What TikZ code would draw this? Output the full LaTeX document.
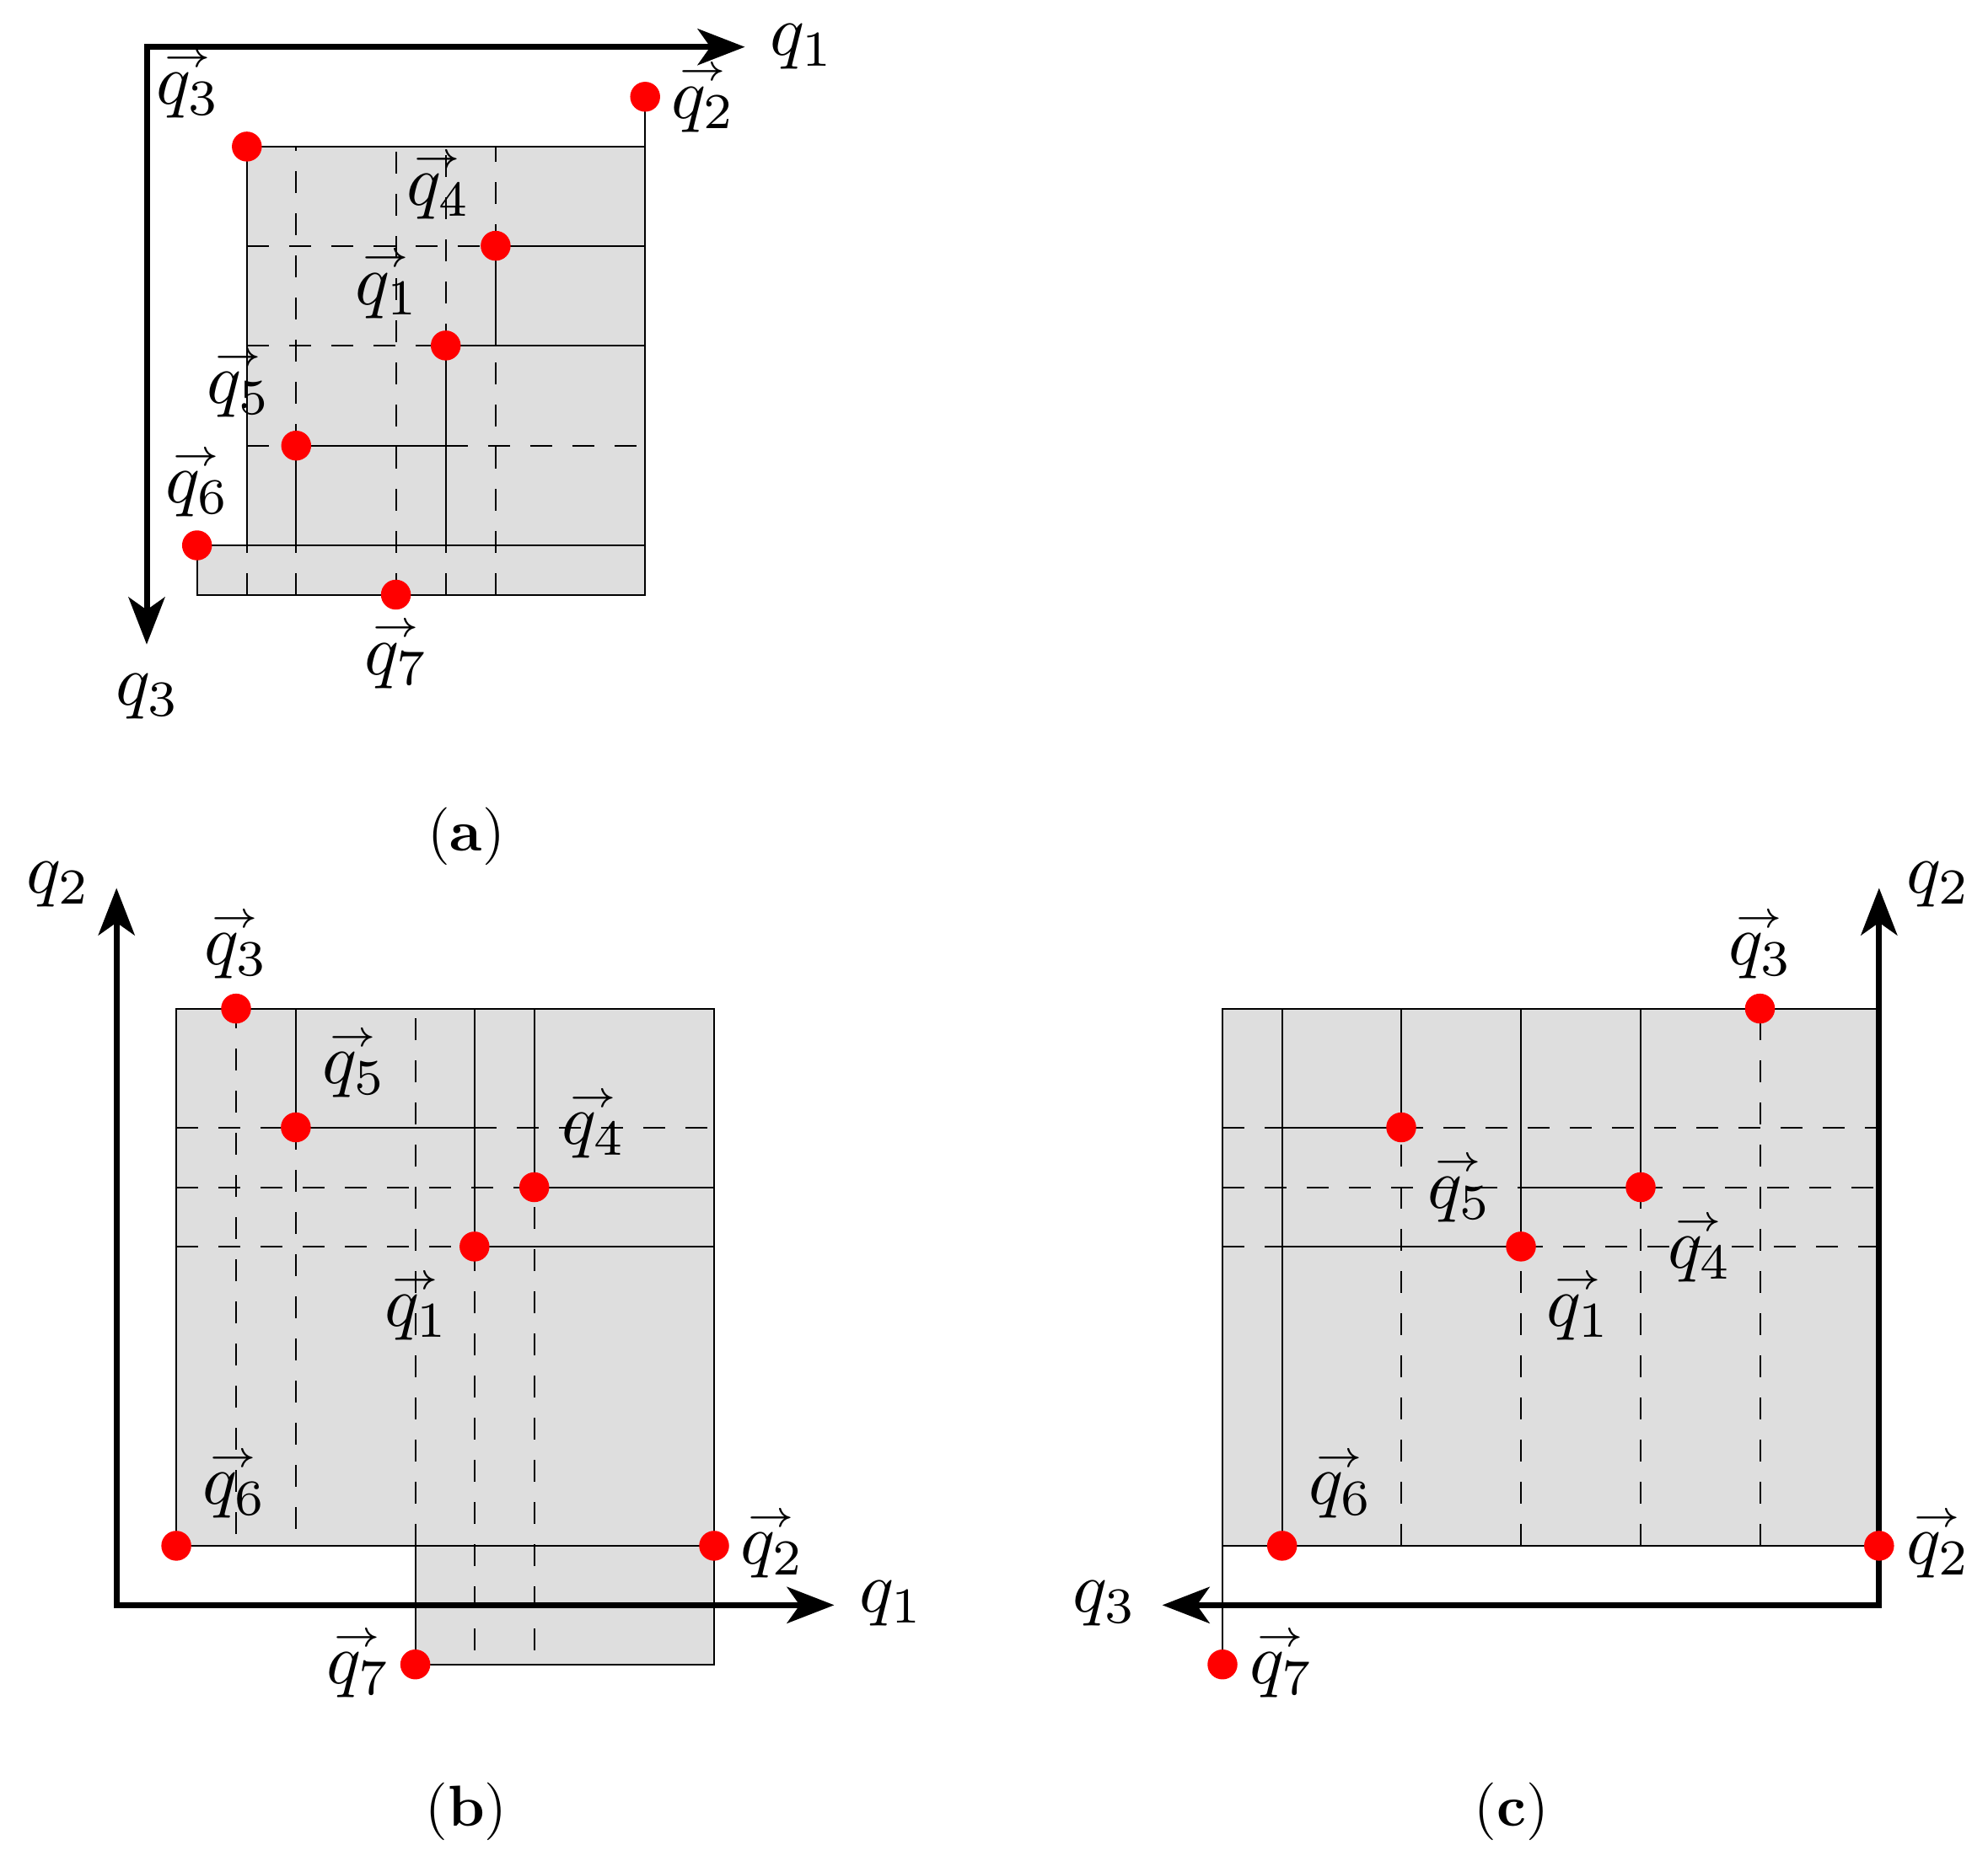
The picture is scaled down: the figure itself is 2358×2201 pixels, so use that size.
\documentclass[tikz,border=0pt]{standalone}
\usepackage{amsmath}
\usetikzlibrary{arrows.meta,calc}
\pgfdeclarelayer{bg}
\pgfsetlayers{bg,main}
\definecolor{shadegray}{HTML}{DEDEDE}
\newcommand{\qv}[1]{\rlap{\hspace{0.9pt}\raisebox{5.2pt}{$\scriptscriptstyle\rightarrow$}}$q_{#1}$}
\newcommand{\qa}[1]{$q_{#1}$}
\tikzset{
  dotpt/.style={circle,fill=red,draw=none,minimum size=0.71cm,inner sep=0pt},
  lab/.style={scale=4.85,inner sep=0pt,text=black,xshift=0.01cm},
  captxt/.style={scale=3.9,inner sep=0pt,text=black},
  region/.style={fill=shadegray,draw=none},
  solidln/.style={draw=black,line width=0.04cm},
  dashln/.style={draw=black,line width=0.04cm,dash pattern=on 0.52cm off 0.48cm},
  axisln/.style={draw=black,line width=0.14cm,line join=miter,
    {Stealth[length=1.12cm,width=0.86cm,inset=0.3cm]}-{Stealth[length=1.12cm,width=0.86cm,inset=0.3cm]}},
}
\begin{document}
\begin{tikzpicture}[x=0.02cm,y=-0.02cm]
\useasboundingbox (0,0) rectangle (2358,2201);

% ---------- panel a
\node[dotpt] (a1) at (528.7,409.9) {};
\node[dotpt] (a2) at (765.2,114.8) {};
\node[dotpt] (a3) at (292.8,173.9) {};
\node[dotpt] (a4) at (587.9,291.6) {};
\node[dotpt] (a5) at (351.3,528.7) {};
\node[dotpt] (a6) at (233.7,647) {};
\node[dotpt] (a7) at (469.6,705.5) {};
\coordinate (aO) at (174,55.7);
\coordinate (aX) at (883.5,55.7);
\coordinate (aY) at (174,764.6);
\begin{pgfonlayer}{bg}
\path[region] (a3.center) -- (a3.center-|a2.center) -- (a7.center-|a2.center) -- (a7.center-|a6.center) -- (a6.center) -- (a6.center-|a3.center) -- cycle;
\draw[solidln] (a2.center) -- (a7.center-|a2.center) -- (a7.center-|a6.center) -- (a6.center) -- (a6.center-|a2.center);
\draw[solidln] (a3.center-|a2.center) -- (a3.center) -- (a6.center-|a3.center);
\draw[solidln] (a4.center) -- (a4.center-|a2.center);
\draw[dashln] (a4.center-|a3.center) -- (a4.center);
\draw[solidln] (a1.center) -- (a1.center-|a2.center);
\draw[dashln] (a1.center-|a3.center) -- (a1.center);
\draw[solidln] (a5.center) -- (a5.center-|a1.center);
\draw[dashln] (a5.center-|a3.center) -- (a5.center);
\draw[dashln] (a5.center-|a1.center) -- (a5.center-|a2.center);
% verticals
\draw[dashln] (a7.center-|a3.center) -- (a6.center-|a3.center);
\draw[solidln] (a5.center) -- (a6.center-|a5.center);
\draw[dashln] (a7.center-|a5.center) -- (a6.center-|a5.center);
\draw[dashln] (a5.center) -- (a3.center-|a5.center);
\draw[dashln] (a7.center) -- (a3.center-|a7.center);
\draw[solidln] (a1.center) -- (a6.center-|a1.center);
\draw[dashln] (a7.center-|a1.center) -- (a6.center-|a1.center);
\draw[dashln] (a1.center) -- (a3.center-|a1.center);
\draw[solidln] (a4.center) -- (a1.center-|a4.center);
\draw[dashln] (a7.center-|a4.center) -- (a1.center-|a4.center);
\draw[dashln] (a4.center) -- (a3.center-|a4.center);
\draw[axisln] (aX) -- (aO) -- (aY);
\end{pgfonlayer}
\node[lab] (la3) at (221.6,101.6) {\qv{3}};
\node[lab] (la2) at (832.4,117.7) {\qv{2}};
\node[lab] (la4) at (517.8,221) {\qv{4}};
\node[lab] (la1) at (457,338.7) {\qv{1}};
\node[lab] (la5) at (281.3,456.4) {\qv{5}};
\node[lab] (la6) at (232,574) {\qv{6}};
\node[lab] (la7) at (468.5,777.8) {\qv{7}};
\node[lab] (axa1) at (949.5,55.7) {\qa{1}};
\node[lab] (axa3) at (172.8,826.6) {\qa{3}};
\node[captxt] (capa) at (553,992) {(\textbf{a})};

\begin{scope}[yshift=-0.03cm]
% ---------- panel b
\node[dotpt] (b1) at (562.8,1477.4) {};
\node[dotpt] (b2) at (847,1832.4) {};
\node[dotpt] (b3) at (280,1195.1) {};
\node[dotpt] (b4) at (633.7,1407) {};
\node[dotpt] (b5) at (350.9,1336) {};
\node[dotpt] (b6) at (209.1,1832.4) {};
\node[dotpt] (b7) at (492.6,1973.2) {};
\coordinate (bO) at (138.2,1902.8);
\coordinate (bX) at (989.5,1902.8);
\coordinate (bY) at (138.2,1052);
\coordinate (b3e) at (280,1818);
\coordinate (b5e) at (350.9,1812);
\coordinate (b1e) at (562.8,1956);
\coordinate (b4e) at (633.7,1956);
\begin{pgfonlayer}{bg}
\path[region] (b6.center) -- (b3.center-|b6.center) -- (b3.center-|b2.center) -- (b7.center-|b2.center) -- (b7.center) -- (b6.center-|b7.center) -- cycle;
\draw[solidln] (b6.center) -- (b3.center-|b6.center) -- (b3.center-|b2.center) -- (b7.center-|b2.center) -- (b7.center) -- (b6.center-|b7.center);
\draw[solidln] (b6.center) -- (b2.center);
\draw[dashln] (b6.center-|b7.center) -- (b3.center-|b7.center);
\draw[dashln] (b3e) -- (b3.center);
\draw[solidln] (b5.center) -- (b3.center-|b5.center);
\draw[dashln] (b5e) -- (b5.center);
\draw[solidln] (b1.center) -- (b3.center-|b1.center);
\draw[dashln] (b1e) -- (b1.center);
\draw[solidln] (b4.center) -- (b3.center-|b4.center);
\draw[dashln] (b4e) -- (b4.center);
\draw[dashln] (b5.center-|b6.center) -- (b5.center);
\draw[solidln] (b5.center) -- (b5.center-|b1.center);
\draw[dashln] (b5.center-|b1.center) -- (b5.center-|b2.center);
\draw[dashln] (b4.center-|b6.center) -- (b4.center);
\draw[solidln] (b4.center) -- (b4.center-|b2.center);
\draw[dashln] (b1.center-|b6.center) -- (b1.center);
\draw[solidln] (b1.center) -- (b1.center-|b2.center);
\draw[axisln] (bX) -- (bO) -- (bY);
\end{pgfonlayer}
\node[lab] (lb3) at (278,1121) {\qv{3}};
\node[lab] (lb5) at (418,1262) {\qv{5}};
\node[lab] (lb4) at (702.5,1334) {\qv{4}};
\node[lab] (lb1) at (492,1550) {\qv{1}};
\node[lab] (lb6) at (276,1761) {\qv{6}};
\node[lab] (lb2) at (914,1832) {\qv{2}};
\node[lab] (lb7) at (423,1974) {\qv{7}};
\node[lab] (axb1) at (1055,1901) {\qa{1}};
\node[lab] (axb2) at (67,1048) {\qa{2}};
\node[captxt] (capb) at (553,2148) {(\textbf{b})};

% ---------- panel c
\node[dotpt] (c1) at (1804,1477.4) {};
\node[dotpt] (c3) at (2087.5,1195.1) {};
\node[dotpt] (c4) at (1946,1407) {};
\node[dotpt] (c5) at (1662,1336) {};
\node[dotpt] (c6) at (1520.7,1832.4) {};
\node[dotpt] (c7) at (1450,1973.2) {};
\coordinate (cO) at (2228.8,1902.8);
\coordinate (cX) at (1378.6,1902.8);
\coordinate (cY) at (2228.8,1052);
\coordinate (c2) at (2228.8,1832.4);
\begin{pgfonlayer}{bg}
\path[region] (c3.center-|c7.center) -- (c3.center-|c2) -- (c2) -- (c6.center-|c7.center) -- cycle;
\draw[solidln] (c7.center) -- (c3.center-|c7.center) -- (c3.center-|c2);
\draw[solidln] (c6.center-|c7.center) -- (c2);
\draw[solidln] (c6.center) -- (c3.center-|c6.center);
\draw[solidln] (c5.center) -- (c3.center-|c5.center);
\draw[dashln] (c6.center-|c5.center) -- (c5.center);
\draw[solidln] (c1.center) -- (c3.center-|c1.center);
\draw[dashln] (c6.center-|c1.center) -- (c1.center);
\draw[solidln] (c4.center) -- (c3.center-|c4.center);
\draw[dashln] (c6.center-|c4.center) -- (c4.center);
\draw[dashln] (c6.center-|c3.center) -- (c3.center);
\draw[dashln] (c5.center-|c7.center) -- (c5.center-|c6.center);
\draw[solidln] (c5.center-|c6.center) -- (c5.center);
\draw[dashln] (c5.center) -- (c5.center-|c2);
\draw[dashln] (c4.center-|c7.center) -- (c4.center-|c1.center);
\draw[solidln] (c4.center-|c1.center) -- (c4.center);
\draw[dashln] (c4.center) -- (c4.center-|c2);
\draw[dashln] (c1.center-|c7.center) -- (c1.center-|c6.center);
\draw[solidln] (c1.center-|c6.center) -- (c1.center);
\draw[dashln] (c1.center) -- (c1.center-|c2);
\draw[axisln] (cX) -- (cO) -- (cY);
\end{pgfonlayer}
\node[dotpt] (c2d) at (c2) {};
\node[lab] (lc3) at (2086,1121) {\qv{3}};
\node[lab] (lc5) at (1729,1410) {\qv{5}};
\node[lab] (lc4) at (2014,1480.5) {\qv{4}};
\node[lab] (lc1) at (1870.5,1550) {\qv{1}};
\node[lab] (lc6) at (1588,1760.5) {\qv{6}};
\node[lab] (lc2) at (2297,1832) {\qv{2}};
\node[lab] (lc7) at (1518,1974) {\qv{7}};
\node[lab] (axc3) at (1308,1901) {\qa{3}};
\node[lab] (axc2) at (2297,1048) {\qa{2}};
\node[captxt] (capc) at (1793,2148) {(\textbf{c})};
\end{scope}
\end{tikzpicture}
\end{document}
